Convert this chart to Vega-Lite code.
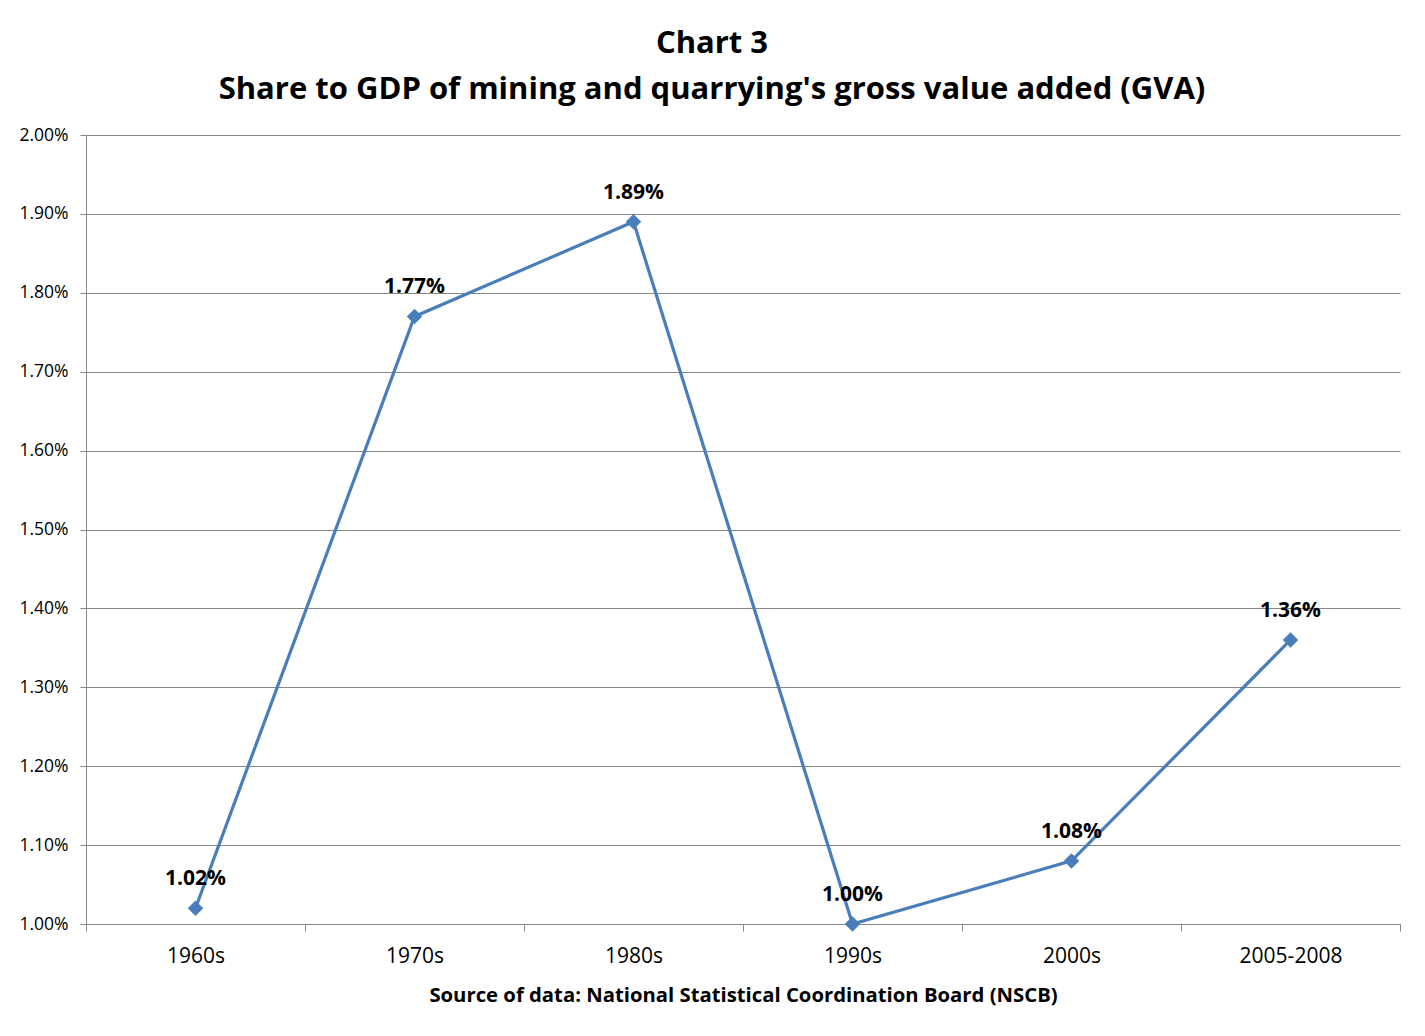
{
  "$schema": "https://vega.github.io/schema/vega-lite/v6.json",
  "autosize": "none",
  "width": 1314,
  "height": 789,
  "padding": {"left": 86, "top": 135, "right": 25, "bottom": 112},
  "background": "white",
  "title": {
    "text": ["Chart 3", "Share to GDP of mining and quarrying's gross value added (GVA)"],
    "font": "Open Sans",
    "fontSize": 31,
    "fontWeight": "bold",
    "color": "black",
    "lineHeight": 46,
    "anchor": "middle",
    "dx": -31,
    "offset": 20
  },
  "data": {
    "values": [
      {"period": "1960s", "share": 0.0102},
      {"period": "1970s", "share": 0.0177},
      {"period": "1980s", "share": 0.0189},
      {"period": "1990s", "share": 0.0100},
      {"period": "2000s", "share": 0.0108},
      {"period": "2005-2008", "share": 0.0136}
    ]
  },
  "encoding": {
    "x": {
      "field": "period",
      "type": "nominal",
      "sort": null,
      "scale": {"type": "band", "paddingInner": 0, "paddingOuter": 0},
      "axis": {
        "title": "Source of data: National Statistical Coordination Board (NSCB)",
        "titleFont": "Open Sans",
        "titleFontSize": 20.3,
        "titleFontWeight": "bold",
        "titleColor": "black",
        "titlePadding": 19,
        "labelFont": "Open Sans",
        "labelFontSize": 21,
        "labelColor": "black",
        "labelAngle": 0,
        "labelPadding": 14,
        "tickBand": "extent",
        "tickSize": 7,
        "tickColor": "#868686",
        "domainColor": "#868686",
        "grid": false
      }
    },
    "y": {
      "field": "share",
      "type": "quantitative",
      "scale": {"domain": [0.01, 0.02], "nice": false, "zero": false},
      "axis": {
        "title": null,
        "format": ".2%",
        "values": [0.01, 0.011, 0.012, 0.013, 0.014, 0.015, 0.016, 0.017, 0.018, 0.019, 0.02],
        "labelFont": "Open Sans",
        "labelFontSize": 17.5,
        "labelColor": "black",
        "labelPadding": 12,
        "tickSize": 6,
        "tickColor": "#868686",
        "domainColor": "#868686",
        "grid": true,
        "gridColor": "#868686",
        "gridOpacity": 1
      }
    }
  },
  "layer": [
    {
      "mark": {"type": "line", "color": "#4A7EBB", "strokeWidth": 3.2}
    },
    {
      "mark": {"type": "point", "shape": "diamond", "filled": true, "color": "#4A7EBB", "opacity": 1, "size": 240}
    },
    {
      "mark": {"type": "text", "font": "Open Sans", "fontSize": 21, "fontWeight": "bold", "color": "black", "baseline": "middle", "dy": -29},
      "encoding": {
        "text": {"field": "share", "type": "quantitative", "format": ".2%"}
      }
    }
  ],
  "config": {
    "view": {"stroke": null}
  }
}
